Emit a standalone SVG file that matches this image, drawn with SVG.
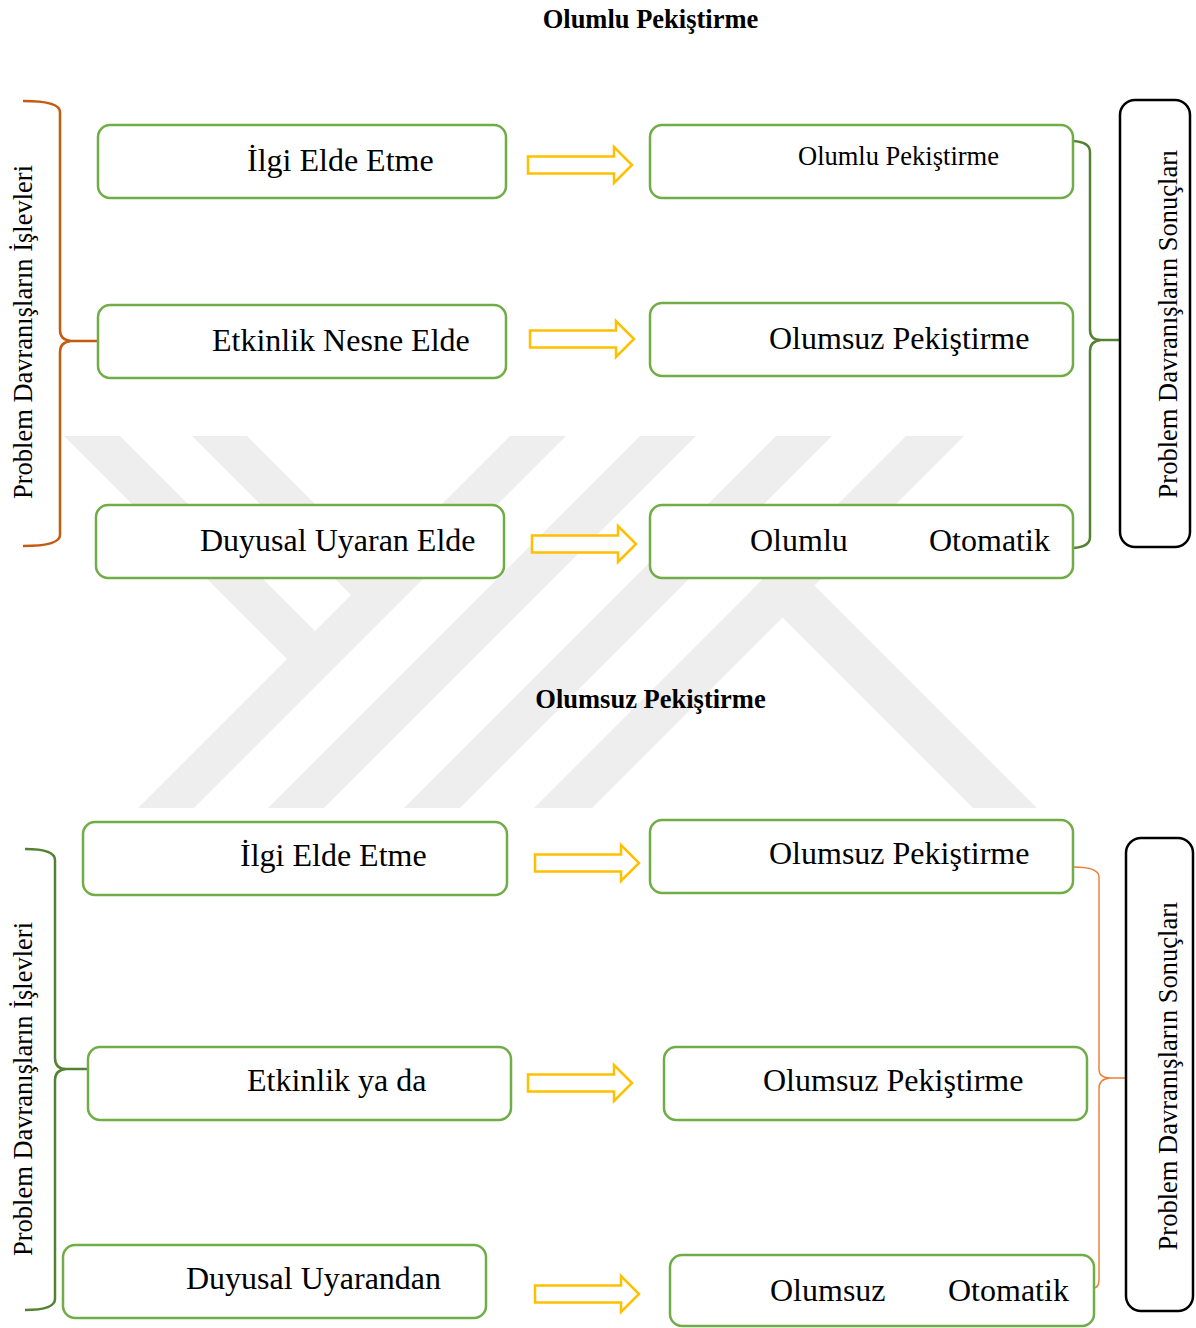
<svg xmlns="http://www.w3.org/2000/svg" xmlns:xlink="http://www.w3.org/1999/xlink" width="1196" height="1328" viewBox="0 0 1196 1328">
<style>
.wm{fill:#eeeeee;stroke:none}
.box{fill:#ffffff;stroke:#70ad47;stroke-width:2.5}
.side{fill:#ffffff;stroke:#000000;stroke-width:2.5}
.t{font-family:"Liberation Serif","Times New Roman",serif;font-size:32px;fill:#000}
.ts{font-family:"Liberation Serif","Times New Roman",serif;font-size:26.5px;fill:#000}
.title{font-family:"Liberation Serif","Times New Roman",serif;font-size:26.5px;font-weight:bold;fill:#000;text-anchor:middle}
.vt{font-family:"Liberation Serif","Times New Roman",serif;font-size:26.5px;fill:#000;text-anchor:middle}
.arrow{fill:#ffffff;stroke:#ffc000;stroke-width:2.5;stroke-linejoin:miter}
.brO{fill:none;stroke:#c55a11;stroke-width:2.5}
.brG{fill:none;stroke:#548235;stroke-width:2.5}
.brL{fill:none;stroke:#ed7d31;stroke-width:1.4}
</style>
<defs>
<path id="arr" d="M0,-8.5 H86 V-18 L104,0 L86,18 V8.5 H0 Z"/>
</defs>
<rect width="1196" height="1328" fill="#ffffff"/>
<g id="watermark">
<polygon class="wm" points="510,436 566,436 194,808 138,808"/>
<polygon class="wm" points="640,436 696,436 324,808 268,808"/>
<polygon class="wm" points="776,436 832,436 460,808 404,808"/>
<polygon class="wm" points="906,436 964,436 592,808 534,808"/>
<polygon class="wm" points="64,436 120,436 343,659 287,659"/>
<polygon class="wm" points="192,436 247,436 406,595 351,595"/>
<polygon class="wm" points="785.5,556.5 1037,808 973,808 753.5,588.5"/>
</g>
<text class="title" x="650.5" y="28">Olumlu Pekiştirme</text>
<text class="title" x="650.5" y="708">Olumsuz Pekiştirme</text>
<g id="connectors">
<use xlink:href="#arr" class="arrow" transform="translate(528,165)"/>
<use xlink:href="#arr" class="arrow" transform="translate(530,339)"/>
<use xlink:href="#arr" class="arrow" transform="translate(532,544)"/>
<use xlink:href="#arr" class="arrow" transform="translate(535,863)"/>
<use xlink:href="#arr" class="arrow" transform="translate(528,1083)"/>
<use xlink:href="#arr" class="arrow" transform="translate(535,1294)"/>
<path class="brO" d="M23,101 Q60,101 60,112 V330 Q60,340 71,341 Q60,342 60,352 V535 Q60,546 23,546 M71,341 H98"/>
<path class="brG" d="M1073,141 Q1090,142 1090,152 V330 Q1090,340 1101,340 Q1090,341 1090,351 V537 Q1090,547 1073,548 M1101,340 H1120"/>
<path class="brG" d="M25,849 Q55,849 55,860 V1058 Q55,1069 66,1069 Q55,1070 55,1080 V1299 Q55,1310 25,1310 M66,1069 H88"/>
<path class="brL" d="M1073,867 Q1099,867 1099,877 V1069 Q1099,1078 1110,1078 Q1099,1079 1099,1088 V1280 Q1099,1288 1093,1288 M1110,1078 H1127"/>
</g>
<g id="side-top-left"><text class="vt" transform="translate(32,332) rotate(-90)">Problem Davranışların İşlevleri</text></g>
<g id="side-top-right"><rect class="side" x="1120" y="100" width="70" height="447" rx="15"/><text class="vt" transform="translate(1177,324) rotate(-90)">Problem Davranışların Sonuçları</text></g>
<g id="side-bottom-left"><text class="vt" transform="translate(32,1089) rotate(-90)">Problem Davranışların İşlevleri</text></g>
<g id="side-bottom-right"><rect class="side" x="1126" y="838" width="67" height="473" rx="15"/><text class="vt" transform="translate(1177,1076) rotate(-90)">Problem Davranışların Sonuçları</text></g>
<g id="a1"><rect class="box" x="98" y="125" width="408" height="73" rx="12"/><text class="t" x="247" y="171">İlgi Elde Etme</text></g>
<g id="a2"><rect class="box" x="98" y="305" width="408" height="73" rx="12"/><text class="t" x="212" y="351">Etkinlik Nesne Elde</text></g>
<g id="a3"><rect class="box" x="96" y="505" width="408" height="73" rx="12"/><text class="t" x="200" y="551">Duyusal Uyaran Elde</text></g>
<g id="b1"><rect class="box" x="650" y="125" width="423" height="73" rx="12"/><text class="ts" x="798" y="165">Olumlu Pekiştirme</text></g>
<g id="b2"><rect class="box" x="650" y="303" width="423" height="73" rx="12"/><text class="t" x="769" y="349">Olumsuz Pekiştirme</text></g>
<g id="b3"><rect class="box" x="650" y="505" width="423" height="73" rx="12"/><text class="t" x="750" y="551">Olumlu</text><text class="t" x="929" y="551">Otomatik</text></g>
<g id="c1"><rect class="box" x="83" y="822" width="424" height="73" rx="12"/><text class="t" x="240" y="866">İlgi Elde Etme</text></g>
<g id="c2"><rect class="box" x="88" y="1047" width="423" height="73" rx="12"/><text class="t" x="247" y="1091">Etkinlik ya da</text></g>
<g id="c3"><rect class="box" x="63" y="1245" width="423" height="73" rx="12"/><text class="t" x="186" y="1289">Duyusal Uyarandan</text></g>
<g id="d1"><rect class="box" x="650" y="820" width="423" height="73" rx="12"/><text class="t" x="769" y="864">Olumsuz Pekiştirme</text></g>
<g id="d2"><rect class="box" x="664" y="1047" width="423" height="73" rx="12"/><text class="t" x="763" y="1091">Olumsuz Pekiştirme</text></g>
<g id="d3"><rect class="box" x="670" y="1255" width="424" height="71" rx="12"/><text class="t" x="770" y="1301">Olumsuz</text><text class="t" x="948" y="1301">Otomatik</text></g>
</svg>
